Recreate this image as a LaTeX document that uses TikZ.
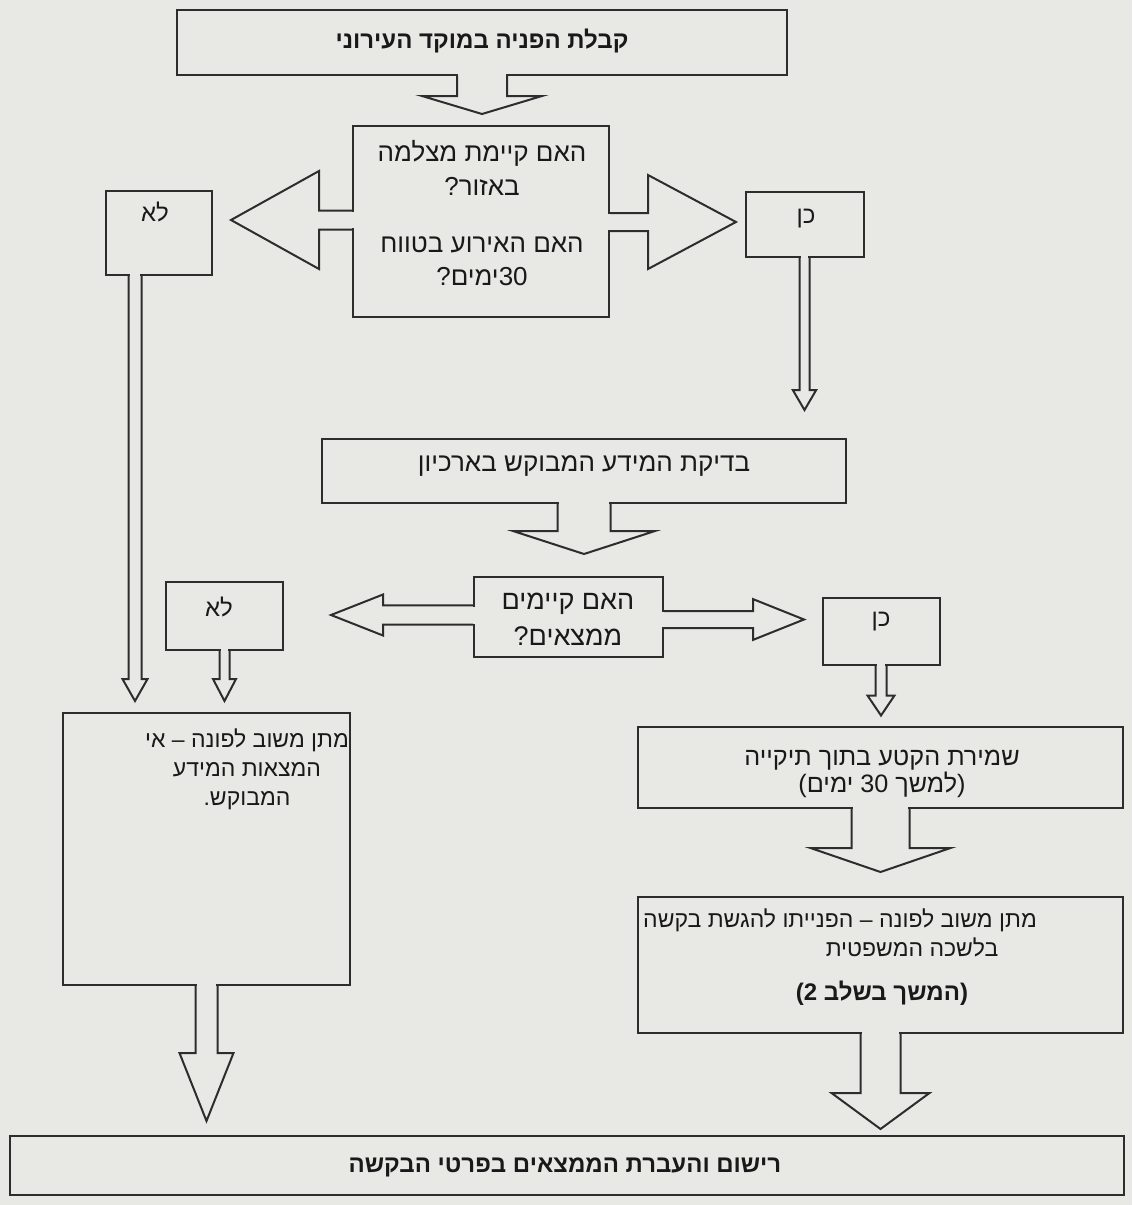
\documentclass[tikz,border=0pt]{standalone}
\usepackage{fontspec}
\setmainfont{Liberation Sans}
\newfontfamily\heb[Script=Hebrew]{Liberation Sans}
\TeXXeTstate=1
\usetikzlibrary{calc}
\definecolor{bgc}{RGB}{232,232,229}
\definecolor{ln}{RGB}{45,45,45}
\definecolor{tx}{RGB}{25,25,25}
\newcommand\hb[1]{\beginR #1\endR}
% block arrows: #1 start coordinate, #2 shaft half width, #3 shaft length, #4 head half width, #5 head length
\newcommand\adown[5]{%
  \fill[bgc] ($(#1)+({-#2+1.2},-3)$) rectangle ($(#1)+({#2-1.2},#3)$);
  \draw[arr] ($(#1)+(-#2,0)$) -- ++(0,#3) -- ++({-(#4-#2)},0) -- ++(#4,#5) -- ++(#4,-#5) -- ++({-(#4-#2)},0) -- ++(0,-#3);}
\newcommand\aleft[5]{%
  \fill[bgc] ($(#1)+(-#3,{-#2+1.2})$) rectangle ($(#1)+(3,{#2-1.2})$);
  \draw[arr] ($(#1)+(0,-#2)$) -- ++(-#3,0) -- ++(0,{-(#4-#2)}) -- ++(-#5,#4) -- ++(#5,#4) -- ++(0,{-(#4-#2)}) -- ++(#3,0);}
\newcommand\aright[5]{%
  \fill[bgc] ($(#1)+(-3,{-#2+1.2})$) rectangle ($(#1)+(#3,{#2-1.2})$);
  \draw[arr] ($(#1)+(0,-#2)$) -- ++(#3,0) -- ++(0,{-(#4-#2)}) -- ++(#5,#4) -- ++(-#5,#4) -- ++(0,{-(#4-#2)}) -- ++(-#3,0);}
\begin{document}
\begin{tikzpicture}[x=0.5pt,y=-0.5pt,
  box/.style n args={2}{draw=ln, line width=1pt, fill=bgc, inner sep=0pt,
     minimum width=#1*0.5pt, minimum height=#2*0.5pt},
  arr/.style={draw=ln, line width=1pt, line join=miter},
  txt/.style={text=tx, font=\heb\fontsize{12pt}{14pt}\selectfont, align=center, inner sep=0pt},
  btxt/.style={txt, font=\heb\bfseries\fontsize{12pt}{14pt}\selectfont}]
\fill[bgc] (0,0) rectangle (1132,1205);
\useasboundingbox (0,0) rectangle (1132,1205);
% boxes
\node[box={610}{65}] (top) at (482,42.5) {};
\node[box={256}{191}] (q1) at (481,221.5) {};
\node[box={118}{65}] (yes1) at (804.5,224.5) {};
\node[box={106}{84}] (no1) at (159,233) {};
\node[box={524}{64}] (arch) at (584,471) {};
\node[box={189}{80}] (q2) at (568.5,617) {};
\node[box={117}{67}] (yes2) at (881,631) {};
\node[box={117}{68}] (no2) at (224.5,616) {};
\node[box={287}{272}] (left) at (206.5,849) {};
\node[box={485}{81}] (keep) at (880.5,767.5) {};
\node[box={485}{136}] (reply) at (880.5,965) {};
\node[box={1114}{59}] (bottom) at (567,1165.5) {};
% texts
\node[btxt] (ttop) at (482,41) {\hb{קבלת הפניה במוקד העירוני}};
\node[txt, font=\heb\fontsize{13pt}{16.75pt}\selectfont] (tq1a) at (482,168) {\hb{האם קיימת מצלמה}\\\hb{באזור?}};
\node[txt, font=\heb\fontsize{13pt}{16.75pt}\selectfont] (tq1b) at (482,261) {\hb{האם האירוע בטווח}\\\hb{\beginL30\endL{}ימים?}};
\node[txt] (tyes1) at (806,219) {\hb{כן}};
\node[txt] (tno1) at (155,212) {\hb{לא}};
\node[txt, font=\heb\fontsize{13pt}{15pt}\selectfont] (tarch) at (584,466) {\hb{בדיקת המידע המבוקש בארכיון}};
\node[txt, font=\heb\fontsize{13.5pt}{18pt}\selectfont] (tq2) at (568,619) {\hb{האם קיימים}\\\hb{ממצאים?}};
\node[txt] (tno2) at (219,607) {\hb{לא}};
\node[txt] (tyes2) at (881,622) {\hb{כן}};
\node[txt, font=\heb\fontsize{11.5pt}{14.5pt}\selectfont] (tleft) at (247,769) {\hb{מתן משוב לפונה – אי}\\\hb{המצאות המידע}\\\hb{המבוקש.}};
\node[txt, font=\heb\fontsize{12.6pt}{13.5pt}\selectfont] (tkeep) at (882,774) {\hb{שמירת הקטע בתוך תיקייה}\\\hb{(למשך \beginL30\endL{} ימים)}};
\node[txt, font=\heb\fontsize{11.5pt}{14pt}\selectfont] (treply1) at (840,920) {\hb{מתן משוב לפונה – הפנייתו להגשת בקשה}};
\node[txt, font=\heb\fontsize{11.5pt}{14pt}\selectfont] (treply2) at (912,947) {\hb{בלשכה המשפטית}};
\node[btxt] (treply3) at (882,993) {\hb{(המשך בשלב \beginL2\endL{})}};
\node[btxt] (tbottom) at (565,1167) {\hb{רישום והעברת הממצאים בפרטי הבקשה}};
% arrow start points
\coordinate (s1) at (top.south);
\coordinate (s2l) at ($(q1.west)+(0,-1.5)$);
\coordinate (s2r) at ($(q1.east)+(0,0.5)$);
\coordinate (s3) at (yes1.south);
\coordinate (s4) at ($(no1.south)+(-24,0)$);
\coordinate (s5) at (arch.south);
\coordinate (s6l) at ($(q2.west)+(0,-2)$);
\coordinate (s6r) at ($(q2.east)+(0,2.5)$);
\coordinate (s7) at (yes2.south);
\coordinate (s8) at (no2.south);
\coordinate (s9) at (keep.south);
\coordinate (s10) at (reply.south);
\coordinate (s11) at (left.south);
% arrows
\adown{s1}{25}{20}{60}{18}
\aleft{s2l}{9.5}{33}{49}{88}
\aright{s2r}{9}{38}{47}{88}
\adown{s3}{5}{132}{11.7}{20}
\adown{s4}{6.5}{403}{12.5}{22}
\adown{s5}{26.5}{27}{71}{23}
\aleft{s6l}{9.7}{90}{20.5}{52}
\aright{s6r}{8.5}{89}{20.4}{51}
\adown{s7}{5.5}{30}{13.5}{20}
\adown{s8}{5}{28}{11.5}{22}
\adown{s9}{29}{39}{70}{24}
\adown{s10}{20}{59}{49}{36}
\adown{s11}{11}{67}{27}{68}
\end{tikzpicture}
\end{document}
